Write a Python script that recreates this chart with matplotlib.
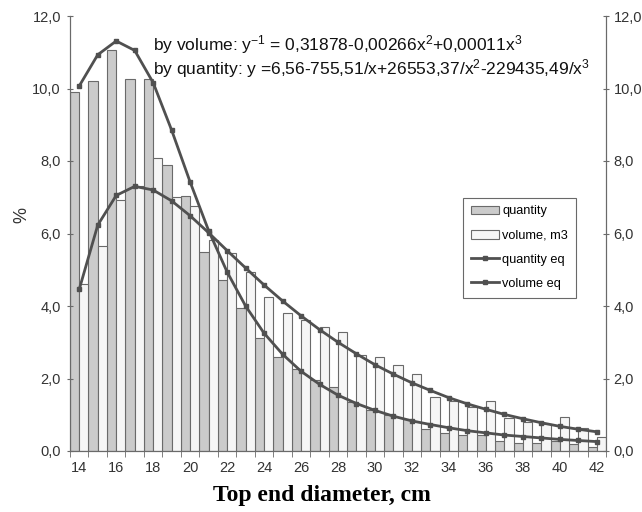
import numpy as np
import matplotlib
matplotlib.use("Agg")
import matplotlib.pyplot as plt

plt.rcParams['font.family'] = ['Liberation Sans', 'DejaVu Sans']
plt.rcParams['mathtext.default'] = 'regular'

# --- datos ---
diametros = list(range(14, 43))
cantidad = [9.9, 10.2, 11.05, 10.25, 10.25, 7.9, 7.03, 5.5, 4.72, 3.94, 3.12, 2.59, 2.26, 1.96, 1.77,
            1.36, 1.14, 0.98, 0.87, 0.62, 0.5, 0.44, 0.44, 0.28, 0.23, 0.23, 0.27, 0.2, 0.12]
volumen = [4.6, 5.66, 6.92, 7.3, 8.08, 7.0, 6.76, 5.82, 5.46, 4.93, 4.25, 3.82, 3.61, 3.42, 3.29,
           2.65, 2.6, 2.38, 2.12, 1.5, 1.38, 1.22, 1.38, 0.91, 0.8, 0.74, 0.93, 0.63, 0.4]
cantidad_eq = [10.07, 10.93, 11.31, 11.05, 10.16, 8.85, 7.42, 6.08, 4.94, 4.0, 3.25, 2.67, 2.2, 1.84, 1.54,
               1.31, 1.12, 0.96, 0.83, 0.73, 0.64, 0.56, 0.5, 0.44, 0.4, 0.36, 0.32, 0.29, 0.26]
volumen_eq = [4.46, 6.23, 7.05, 7.3, 7.2, 6.9, 6.49, 6.02, 5.53, 5.05, 4.58, 4.14, 3.73, 3.35, 3.0,
              2.68, 2.38, 2.12, 1.88, 1.67, 1.47, 1.3, 1.15, 1.01, 0.89, 0.78, 0.68, 0.6, 0.53]
y_ticks = [0, 2, 4, 6, 8, 10, 12]

x = np.arange(len(diametros))
GRIS = '#6a6a6a'
TEXTO = '#333333'

fig = plt.figure(figsize=(6.42, 5.12), dpi=100)
ax = fig.add_axes([70 / 642, 1 - 451 / 512, 536 / 642, 435 / 512])

# --- barras ---
b1 = ax.bar(x - 0.25, cantidad, width=0.5, color='#cbcbcb', edgecolor=GRIS, linewidth=0.8, label='quantity')
b2 = ax.bar(x + 0.25, volumen, width=0.5, color='#f6f6f6', edgecolor=GRIS, linewidth=0.8, label='volume, m3')

# --- curvas de ajuste ---
l1, = ax.plot(x, cantidad_eq, color='#505050', linewidth=2, marker='s', markersize=2.2, label='quantity eq')
l2, = ax.plot(x, volumen_eq, color='#505050', linewidth=2, marker='s', markersize=2.2, label='volume eq')

ax.set_xlim(-0.5, len(x) - 0.5)
ax.set_ylim(0, 12)
etiquetas_y = [f'{v:.1f}'.replace('.', ',') for v in y_ticks]
ax.set_yticks(y_ticks)
ax.set_yticklabels(etiquetas_y, fontsize=10.5, color=TEXTO)
ax.set_xticks(x[::2])
ax.set_xticklabels([str(d) for d in diametros[::2]], fontsize=10.5, color=TEXTO)
ax.set_xticks(np.arange(-0.5, len(x), 1), minor=True)
ax.tick_params(axis='x', which='major', length=0, pad=7)
ax.tick_params(axis='x', which='minor', length=4, direction='out', color=GRIS)
ax.tick_params(axis='y', length=5, direction='inout', color=GRIS, pad=4)

for lado in ['left', 'bottom', 'right']:
    ax.spines[lado].set_color(GRIS)
ax.spines['top'].set_visible(False)

# eje derecho con la misma escala
ax2 = ax.twinx()
ax2.set_ylim(0, 12)
ax2.set_yticks(y_ticks)
ax2.set_yticklabels(etiquetas_y, fontsize=10.5, color=TEXTO)
ax2.tick_params(axis='y', length=5, direction='inout', color=GRIS, pad=3)
for lado in ['left', 'bottom', 'right']:
    ax2.spines[lado].set_color(GRIS)
ax2.spines['top'].set_visible(False)

# --- titulos de ejes ---
fig.text(22 / 642, 1 - 215 / 512, '%', rotation=90, fontsize=13, color=TEXTO, ha='center', va='center')
fig.text(322 / 642, 1 - 495 / 512, 'Top end diameter, cm', fontsize=17, fontweight='bold',
         family=['Liberation Serif', 'DejaVu Serif'], ha='center', va='center')

# --- ecuaciones ---
fig.text(153 / 642, 1 - 45 / 512, 'by volume: y$^{-1}$ = 0,31878-0,00266x$^{2}$+0,00011x$^{3}$',
         fontsize=12.5, va='center', ha='left', color='#111111')
fig.text(153 / 642, 1 - 69 / 512, 'by quantity: y =6,56-755,51/x+26553,37/x$^{2}$-229435,49/x$^{3}$',
         fontsize=12.5, va='center', ha='left', color='#111111')

leg = ax.legend(handles=[b1, b2, l1, l2], loc='upper left', bbox_to_anchor=(0.733, 0.582),
                borderaxespad=0, fontsize=9.2, frameon=True, fancybox=False, edgecolor='#444444',
                handlelength=2.2, handletextpad=0.3, labelspacing=0.95, borderpad=0.6)
leg.get_frame().set_linewidth(0.8)

fig.savefig('out.png', dpi=100)
